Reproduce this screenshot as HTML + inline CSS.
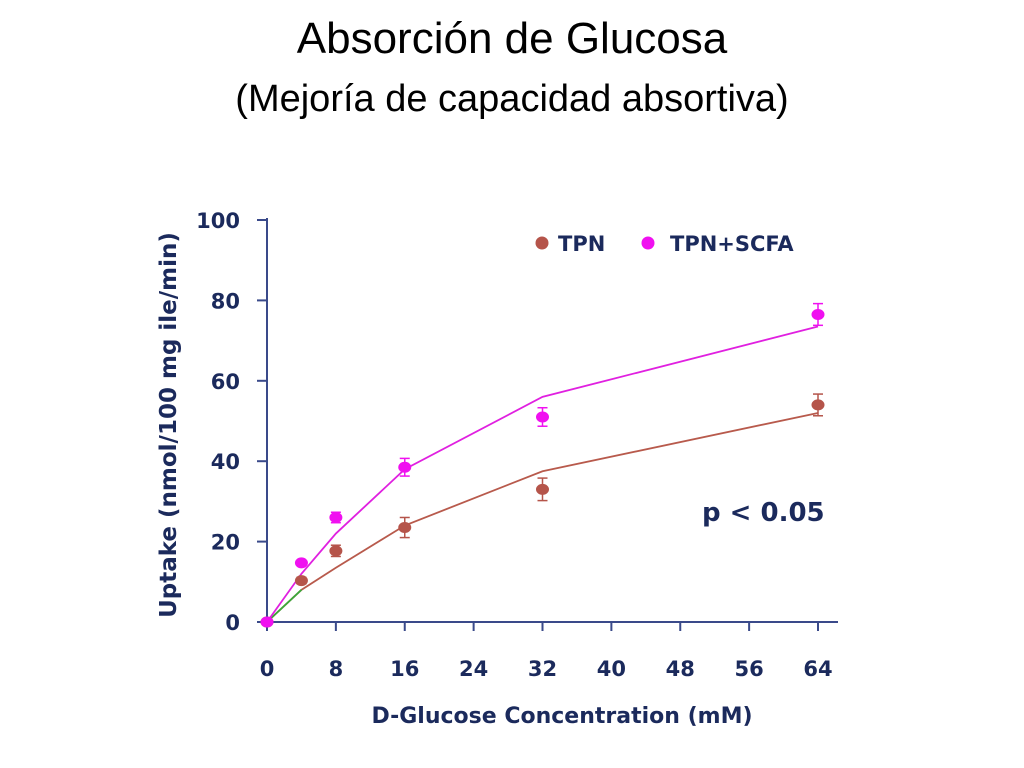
<!DOCTYPE html>
<html><head><meta charset="utf-8"><style>
body{margin:0;background:#fff;width:1024px;height:768px;overflow:hidden;font-family:"Liberation Sans",sans-serif}
.t{position:absolute;left:0;width:1024px;text-align:center;color:#000}
</style></head><body>
<div class="t" style="top:14px;font-size:44px">Absorción de Glucosa</div>
<div class="t" style="top:78px;font-size:38px;left:0">(Mejoría de capacidad absortiva)</div>
<svg id="c" width="1024" height="768" style="position:absolute;left:0;top:0"></svg>
<script>
const xTicks=[0,8,16,24,32,40,48,56,64];
const yTicks=[0,20,40,60,80,100];
const conc=[0,4,8,16,32,64];
const tpn=[0,10.3,17.7,23.5,33,54];
const tpnErr=[0,0.8,1.4,2.5,2.8,2.7];
const scfa=[0,14.7,26,38.5,51,76.5];
const scfaErr=[0,0.6,1.3,2.2,2.3,2.7];
const tpnFit=[0,8,13.5,24,37.5,52];
const scfaFit=[0,12,22,38,56,73.5];
const X=v=>267+v*(818-267)/64, Y=v=>622-v*4.02;
const svg=document.getElementById('c'),NS='http://www.w3.org/2000/svg';
const navy='#1b2a5c';
function mk(t,a,p){const e=document.createElementNS(NS,t);for(const k in a)e.setAttribute(k,a[k]);(p||svg).appendChild(e);return e;}
let e;
e=mk('line',{x1:267,y1:622,x2:838,y2:622,stroke:'#3a4a8a','stroke-width':2});


e=mk('line',{x1:267,y1:218,x2:267,y2:622,stroke:'#3a4a8a','stroke-width':2});


xTicks.forEach(v=>{
 mk('line',{x1:X(v),y1:622,x2:X(v),y2:631,stroke:'#3a4a8a','stroke-width':2});
 e=mk('text',{x:X(v),y:676,'text-anchor':'middle','font-size':21,'font-weight':'bold',fill:navy,'font-family':'DejaVu Sans'});
 e.textContent=v;
 
 
});
yTicks.forEach(v=>{
 mk('line',{x1:257,y1:Y(v),x2:267,y2:Y(v),stroke:'#3a4a8a','stroke-width':2});
 e=mk('text',{x:240,y:Y(v)+8,'text-anchor':'end','font-size':21,'font-weight':'bold',fill:navy,'font-family':'DejaVu Sans'});
 e.textContent=v;
 
 
});
function fit(vals,col,name){
 const pts=conc.map((c,i)=>X(c)+','+Y(vals[i])).join(' ');
 e=mk('polyline',{points:pts,fill:'none',stroke:col,'stroke-width':1.8});
 
 
}
fit(tpnFit,'#b85a4c','tpn-fit-line');
mk('line',{x1:X(0),y1:Y(0),x2:X(conc[1]),y2:Y(tpnFit[1]),stroke:'#3aa83a','stroke-width':1.8});
fit(scfaFit,'#e020e0','scfa-fit-line');
function pts(vals,err,col,name){
 conc.forEach((c,i)=>{
  const x=X(c);
  if(err[i]>0){
   mk('line',{x1:x,y1:Y(vals[i]+err[i]),x2:x,y2:Y(vals[i]-err[i]),stroke:col,'stroke-width':1.5});
   mk('line',{x1:x-5,y1:Y(vals[i]+err[i]),x2:x+5,y2:Y(vals[i]+err[i]),stroke:col,'stroke-width':1.5});
   mk('line',{x1:x-5,y1:Y(vals[i]-err[i]),x2:x+5,y2:Y(vals[i]-err[i]),stroke:col,'stroke-width':1.5});
  }
  e=mk('ellipse',{cx:x,cy:Y(vals[i]),rx:6.5,ry:5.5,fill:col});
  
  
 });
}
pts(tpn,tpnErr,'#b5544a','tpn-point');
pts(scfa,scfaErr,'#f010f0','scfa-point');
e=mk('circle',{cx:542,cy:243,r:6.5,fill:'#b5544a'});


e=mk('text',{x:558,y:251,'font-size':21,'font-weight':'bold',fill:navy,'font-family':'DejaVu Sans'});e.textContent='TPN';


e=mk('circle',{cx:648,cy:243,r:6.5,fill:'#f010f0'});


e=mk('text',{x:670,y:251,'font-size':21,'font-weight':'bold',fill:navy,'font-family':'DejaVu Sans'});e.textContent='TPN+SCFA';


e=mk('text',{x:702,y:521,'font-size':26,'font-weight':'bold',fill:navy,'font-family':'DejaVu Sans'});e.textContent='p < 0.05';


e=mk('text',{x:562,y:723,'text-anchor':'middle','font-size':22,'font-weight':'bold',fill:navy,'font-family':'DejaVu Sans'});e.textContent='D-Glucose Concentration (mM)';


e=mk('text',{x:0,y:0,'text-anchor':'middle','font-size':23,'font-weight':'bold',fill:navy,'font-family':'DejaVu Sans',transform:'translate(176,425) rotate(-90)'});e.textContent='Uptake (nmol/100 mg ile/min)';


</script>
</body></html>
